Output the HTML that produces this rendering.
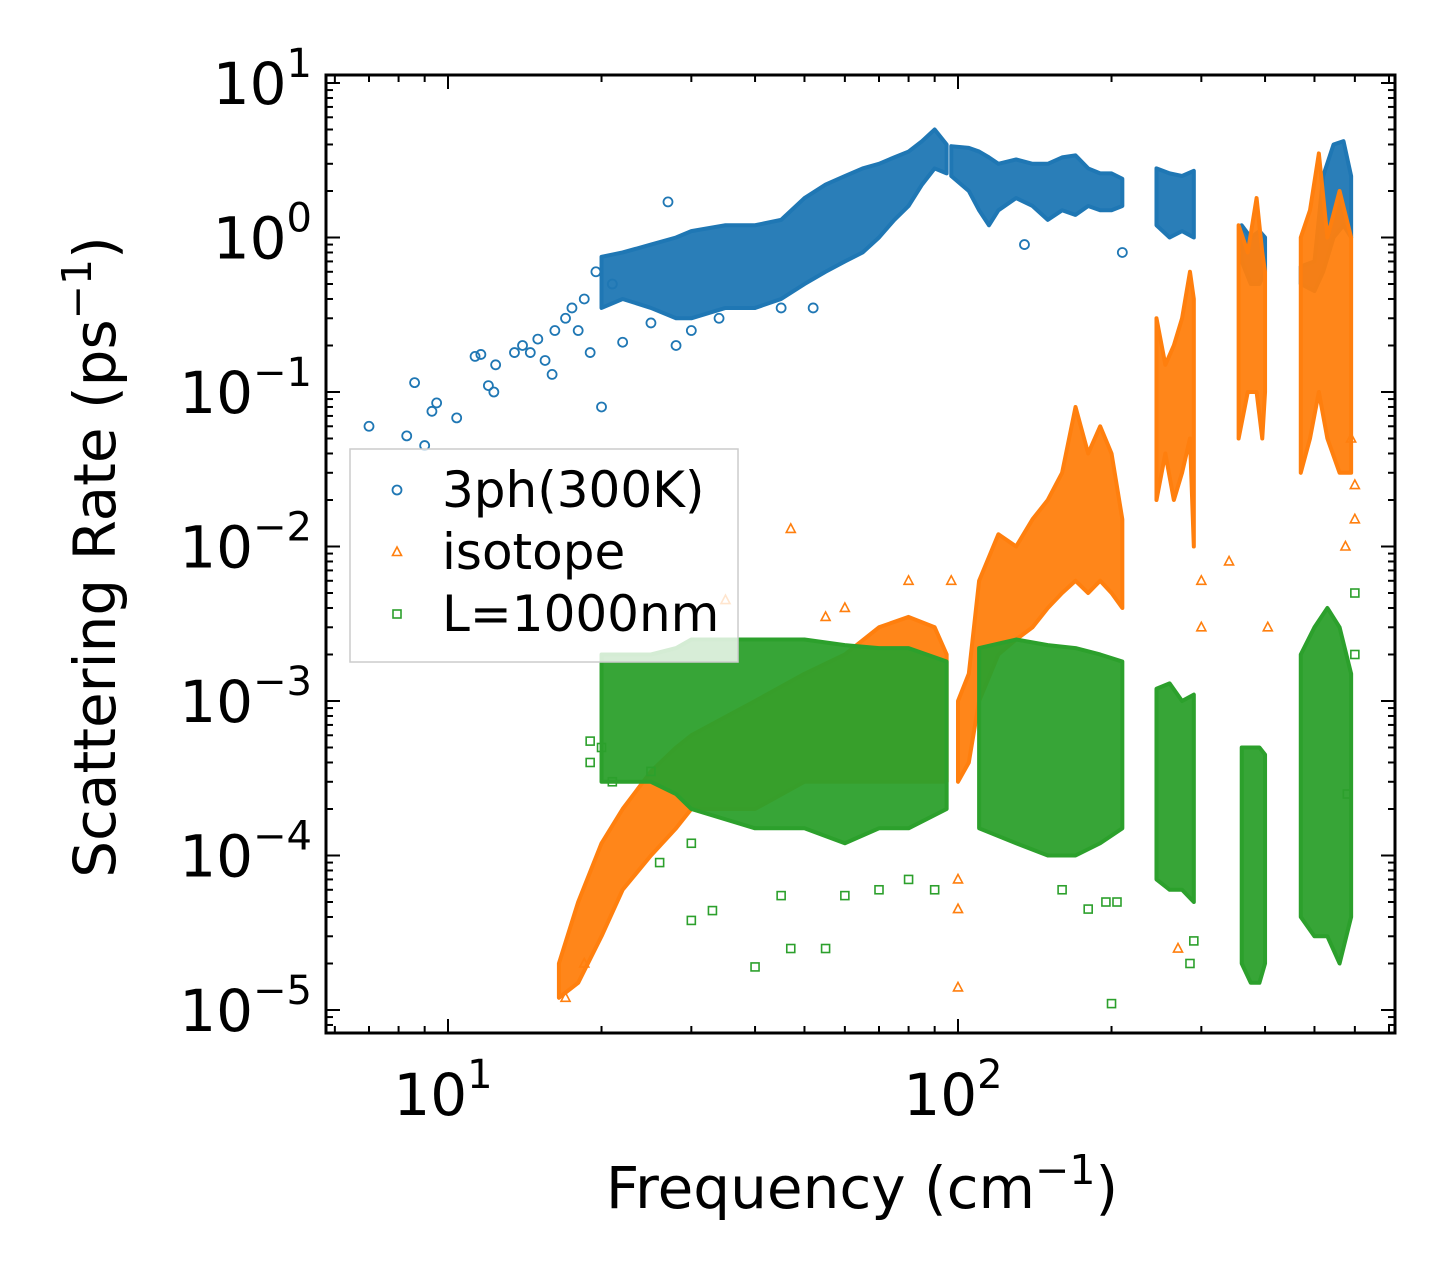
<!DOCTYPE html>
<html><head><meta charset="utf-8"><style>
html,body{margin:0;padding:0;background:#fff;}
svg{display:block;font-family:"DejaVu Sans","Liberation Sans",sans-serif;}
</style></head><body>
<svg id="chart" width="1455" height="1283" viewBox="0 0 1455 1283" xmlns="http://www.w3.org/2000/svg">
<rect x="0" y="0" width="1455" height="1283" fill="#fff"/>
<g id="plot"></g>
<g id="axes"></g>
</svg>
<script>
// ---- data (frequency cm^-1, scattering rate ps^-1) ----
const blueClusters = [
 [[20,0.35,0.75],[22,0.4,0.8],[25,0.35,0.9],[28,0.3,1.0],[30,0.3,1.1],[35,0.35,1.2],[40,0.35,1.2],[45,0.4,1.3],[50,0.5,1.8],[55,0.6,2.2],[60,0.7,2.5],[65,0.8,2.8],[70,1.0,3.0],[75,1.3,3.3],[80,1.6,3.6],[85,2.2,4.2],[90,2.8,5.0],[95,2.6,4.0]],
 [[97,2.5,3.9],[105,2.0,3.8],[110,1.5,3.6],[115,1.2,3.3],[120,1.5,3.0],[130,1.8,3.2],[140,1.6,3.0],[150,1.3,3.0],[160,1.5,3.3],[170,1.4,3.4],[180,1.6,2.8],[190,1.5,2.6],[200,1.5,2.6],[210,1.6,2.4]],
 [[245,1.2,2.8],[260,1.0,2.6],[275,1.1,2.5],[290,1.0,2.7]],
 [[360,0.7,1.2],[375,0.5,1.0],[390,0.5,1.1],[400,0.6,1.0]],
 [[470,0.5,0.65],[500,0.45,0.7],[520,0.6,2.5],[545,1.0,4.0],[570,1.2,4.2],[590,1.0,2.5]]
];
const bluePoints = [[7,0.06],[8.3,0.052],[8.6,0.115],[9,0.045],[9.3,0.075],[9.5,0.085],[10.4,0.068],[11.3,0.17],[11.6,0.175],[12,0.11],[12.3,0.1],[12.4,0.15],[13.5,0.18],[14,0.2],[14.5,0.18],[15,0.22],[15.5,0.16],[16,0.13],[16.2,0.25],[17,0.3],[17.5,0.35],[18,0.25],[18.5,0.4],[19,0.18],[19.5,0.6],[20,0.08],[21,0.5],[22,0.21],[25,0.28],[27,1.7],[28,0.2],[30,0.25],[34,0.3],[45,0.35],[52,0.35],[210,0.8],[135,0.9]];
const orangeClusters = [
 [[16.5,1.2e-5,2e-5],[18,1.5e-5,5e-5],[20,3e-5,1.2e-4],[22,6e-5,2e-4],[25,1e-4,3.5e-4],[28,1.5e-4,5e-4],[30,2e-4,6e-4],[40,2e-4,1e-3],[50,3e-4,1.5e-3],[60,3e-4,2e-3],[70,3e-4,3e-3],[80,3e-4,3.5e-3],[90,3e-4,3e-3],[95,3e-4,2e-3]],
 [[100,3e-4,1e-3],[105,4e-4,1.5e-3],[110,1e-3,6e-3],[120,2e-3,1.2e-2],[130,2.5e-3,1e-2],[140,3e-3,1.5e-2],[150,4e-3,2e-2],[160,5e-3,3e-2],[170,6e-3,8e-2],[180,5e-3,4e-2],[190,6e-3,6e-2],[200,5e-3,4e-2],[210,4e-3,1.5e-2]],
 [[245,2e-2,0.3],[255,4e-2,0.15],[265,2e-2,0.2],[275,3e-2,0.3],[285,5e-2,0.6],[290,1e-2,0.4]],
 [[355,0.05,1.2],[370,0.1,0.8],[385,0.1,1.8],[395,0.05,0.8],[400,0.1,0.6]],
 [[470,0.03,1.0],[490,0.05,1.5],[510,0.1,3.5],[530,0.05,1.0],[560,0.03,2.0],[590,0.03,1.0]]
];
const orangePoints = [[47,0.013],[35,0.0045],[80,0.006],[97,0.006],[100,1.4e-5],[100,4.5e-5],[100,7e-5],[55,0.0035],[60,0.004],[270,2.5e-5],[300,0.006],[300,0.003],[340,0.008],[405,0.003],[600,0.015],[600,0.025],[590,0.05],[575,0.01],[17,1.2e-5],[18.5,2e-5]];
const greenClusters = [
 [[20,3e-4,2e-3],[25,3e-4,2e-3],[28,2.5e-4,2.2e-3],[30,2e-4,2.5e-3],[40,1.5e-4,2.5e-3],[50,1.5e-4,2.5e-3],[60,1.2e-4,2.3e-3],[70,1.5e-4,2.2e-3],[80,1.5e-4,2.2e-3],[95,2e-4,1.8e-3]],
 [[110,1.5e-4,2.2e-3],[130,1.2e-4,2.5e-3],[150,1e-4,2.3e-3],[170,1e-4,2.2e-3],[190,1.2e-4,2e-3],[210,1.5e-4,1.8e-3]],
 [[245,7e-5,1.2e-3],[260,6e-5,1.3e-3],[275,6e-5,1.0e-3],[290,5e-5,1.1e-3]],
 [[360,2e-5,5e-4],[375,1.5e-5,5e-4],[390,1.5e-5,5e-4],[400,2e-5,4.5e-4]],
 [[470,4e-5,2e-3],[500,3e-5,3e-3],[530,3e-5,4e-3],[560,2e-5,3e-3],[590,4e-5,1.5e-3]]
];
const greenPoints = [[30,3.8e-5],[33,4.4e-5],[40,1.9e-5],[47,2.5e-5],[55,2.5e-5],[45,5.5e-5],[60,5.5e-5],[70,6e-5],[80,7e-5],[90,6e-5],[200,1.1e-5],[195,5e-5],[180,4.5e-5],[160,6e-5],[205,5e-5],[285,2e-5],[290,2.8e-5],[20,5e-4],[19,4e-4],[21,3e-4],[25,3.5e-4],[600,5e-3],[600,2e-3],[580,2.5e-4],[26,9e-5],[30,1.2e-4],[19,5.5e-4]];
const xTicks = [10,100];
const yTicks = [-5,-4,-3,-2,-1,0,1];
const legendLabels = ["3ph(300K)","isotope","L=1000nm"];

// ---- axes ----
const L=326,R=1395,T=75,B=1033;
const X = f => 448 + 510*(Math.log10(f)-1);
const Y = v => 237.5 - 154.5*Math.log10(v);
const NS="http://www.w3.org/2000/svg";
const plot=document.getElementById('plot'), axes=document.getElementById('axes');
function mk(tag,attrs,parent){const e=document.createElementNS(NS,tag);for(const k in attrs)e.setAttribute(k,attrs[k]);parent.appendChild(e);return e;}

const clip=mk('clipPath',{id:'cp'},plot);mk('rect',{x:L,y:T,width:R-L,height:B-T},clip);
const gData=mk('g',{'clip-path':'url(#cp)'},plot);

function drawSeries(clusters,points,color,name,marker){
  const g=mk('g',{},gData);
  
  
  clusters.forEach(c=>{
    const top=c.map(p=>X(p[0])+','+Y(p[2]));
    const bot=c.slice().reverse().map(p=>X(p[0])+','+Y(p[1]));
    const poly=mk('polygon',{points:top.concat(bot).join(' '),fill:color,'fill-opacity':0.95,stroke:color,'stroke-width':4,'stroke-linejoin':'round'},g);
    
    
  });
  points.forEach(p=>{
    const m=drawMarker(g,marker,X(p[0]),Y(p[1]),color);
    
    
  });
}
function drawMarker(g,type,x,y,color){
  if(type==='o') return mk('circle',{cx:x,cy:y,r:4.5,fill:'none',stroke:color,'stroke-width':1.8},g);
  if(type==='^') return mk('polygon',{points:`${x},${y-5} ${x-4.5},${y+3.5} ${x+4.5},${y+3.5}`,fill:'none',stroke:color,'stroke-width':1.6},g);
  return mk('rect',{x:x-4,y:y-4,width:8,height:8,fill:'none',stroke:color,'stroke-width':1.6},g);
}
drawSeries(blueClusters,bluePoints,'#1f77b4','3ph','o');
drawSeries(orangeClusters,orangePoints,'#ff7f0e','isotope','^');
drawSeries(greenClusters,greenPoints,'#2ca02c','boundary','s');

// legend
const lg=mk('g',{},plot);


mk('rect',{x:350,y:449,width:388,height:213,fill:'#fff','fill-opacity':0.8,stroke:'#ccc','stroke-width':1.5},lg);
const lcol=['#1f77b4','#ff7f0e','#2ca02c'], lmk=['o','^','s'];
legendLabels.forEach((t,i)=>{
  const y=490+i*62;
  const e=mk('g',{},lg);
  
  
  drawMarker(e,lmk[i],397,y,lcol[i]);
  const tx=mk('text',{x:442,y:y+17,'font-size':50,fill:'#000'},e);tx.textContent=t;
});

// frame
const fr=mk('rect',{x:L,y:T,width:R-L,height:B-T,fill:'none',stroke:'#000','stroke-width':3},axes);


// x ticks
for(let d=0;d<=2;d++){for(let k=1;k<10;k++){const f=k*Math.pow(10,d);const x=X(f);if(x<L||x>R)continue;const len=k===1?14:7;
  mk('line',{x1:x,y1:B,x2:x,y2:B-len,stroke:'#000','stroke-width':2},axes);
  mk('line',{x1:x,y1:T,x2:x,y2:T+len,stroke:'#000','stroke-width':2},axes);}}
xTicks.forEach(f=>{const t=mk('text',{x:X(f)-5,y:1115,'font-size':58,'text-anchor':'middle'},axes);
  
  
  t.innerHTML='10<tspan dy="-27" font-size="40">'+Math.round(Math.log10(f))+'</tspan>';});
// y ticks
for(let e=-6;e<=1;e++){for(let k=1;k<10;k++){const v=k*Math.pow(10,e);const y=Y(v);if(y<T||y>B)continue;const len=k===1?14:7;
  mk('line',{x1:L,y1:y,x2:L+len,y2:y,stroke:'#000','stroke-width':2},axes);
  mk('line',{x1:R,y1:y,x2:R-len,y2:y,stroke:'#000','stroke-width':2},axes);}}
yTicks.forEach(e=>{const y=Y(Math.pow(10,e));const t=mk('text',{x:312,y:y+21,'font-size':58,'text-anchor':'end'},axes);
  
  
  const lab=e<0?'\u2212'+(-e):String(e);
  t.innerHTML='10<tspan dy="-27" font-size="40">'+lab+'</tspan>';});
// titles
const xt=mk('text',{x:862,y:1208,'font-size':58,'text-anchor':'middle'},axes);


xt.innerHTML='Frequency (cm<tspan dy="-24" font-size="41">\u22121</tspan><tspan dy="24">)</tspan>';
const yt=mk('text',{x:0,y:0,'font-size':58,'text-anchor':'middle',transform:'translate(115,557) rotate(-90)'},axes);


yt.innerHTML='Scattering Rate (ps<tspan dy="-24" font-size="41">\u22121</tspan><tspan dy="24">)</tspan>';
</script>
</body></html>
